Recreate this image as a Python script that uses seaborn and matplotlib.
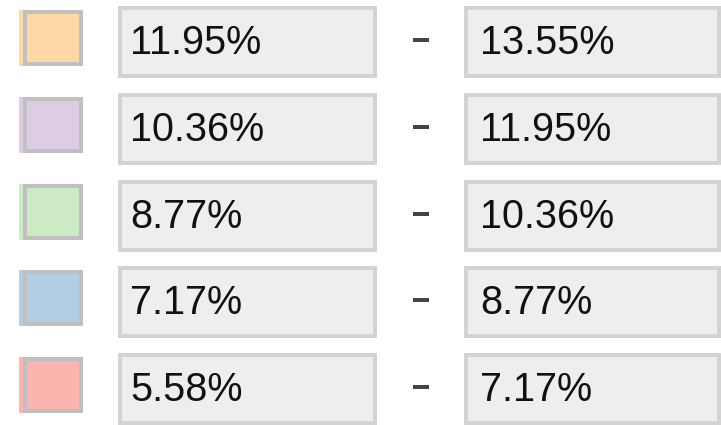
import matplotlib
matplotlib.use("Agg")
import matplotlib.pyplot as plt
from matplotlib.patches import Rectangle
import seaborn as sns

# legend classes, top to bottom
lower = [11.95, 10.36, 8.77, 7.17, 5.58]
upper = [13.55, 11.95, 10.36, 8.77, 7.17]
pal = sns.color_palette("Pastel1", 5)
colors = [pal[4], pal[3], pal[2], pal[1], pal[0]]

sns.set_style("white")
plt.rcParams['font.family'] = ['Liberation Sans', 'DejaVu Sans']

fig = plt.figure(figsize=(7.21, 4.25), dpi=100)
ax = fig.add_axes([0, 0, 1, 1])
ax.set_xlim(0, 721)
ax.set_ylim(425, 0)
ax.axis('off')

lw = 4 * 72 / 100  # 4 px borders
pitch = 86.8
for i, (lo, hi, c) in enumerate(zip(lower, upper, colors)):
    top = 6 + i * pitch
    # swatch: thin strip of colour then grey-bordered square
    ax.add_patch(Rectangle((19, top + 4), 5, 56, facecolor=c, edgecolor='none'))
    ax.add_patch(Rectangle((25, top + 6), 56, 52, facecolor=c, edgecolor='#c0c0c0', linewidth=lw))
    # value boxes
    ax.add_patch(Rectangle((120, top + 2), 255, 68, facecolor='#eeeeee', edgecolor='#d3d3d3', linewidth=lw))
    ax.add_patch(Rectangle((466, top + 2), 253, 68, facecolor='#eeeeee', edgecolor='#d3d3d3', linewidth=lw))
    ax.text(130, top + 48, f'{lo:.2f}%', fontsize=28.5, color='#111111', va='baseline', ha='left')
    ax.text(480, top + 48, f'{hi:.2f}%', fontsize=28.5, color='#111111', va='baseline', ha='left')
    ax.add_patch(Rectangle((413, top + 32), 16, 4, facecolor='#444444', edgecolor='none'))

fig.savefig('out.png', dpi=100)
